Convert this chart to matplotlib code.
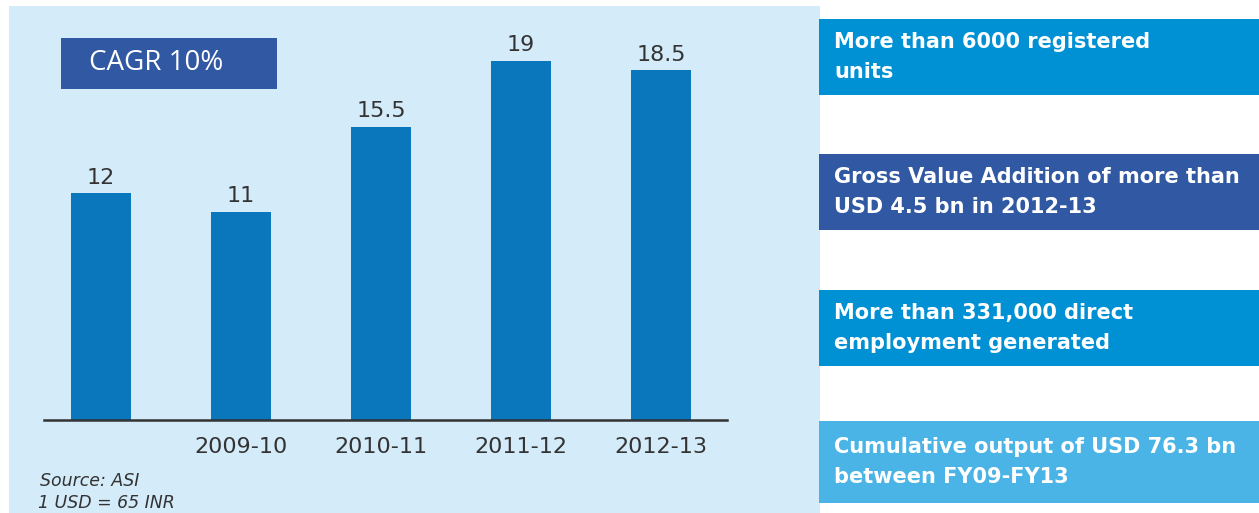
import matplotlib
matplotlib.use("Agg")
import matplotlib.pyplot as plt
from matplotlib.patches import Rectangle

# Output value by year (USD bn)
years = ["", "2009-10", "2010-11", "2011-12", "2012-13"]
values = [12, 11, 15.5, 19, 18.5]
value_labels = ["12", "11", "15.5", "19", "18.5"]

cagr_text = "CAGR 10%"
notes = ["Source: ASI", "1 USD = 65 INR"]

facts = [
    "More than 6000 registered\nunits",
    "Gross Value Addition of more than\nUSD 4.5 bn in 2012-13",
    "More than 331,000 direct\nemployment generated",
    "Cumulative output of USD 76.3 bn\nbetween FY09-FY13",
]
fact_colors = ["#0090D4", "#3158A3", "#0090D4", "#4BB4E6"]

W, H = 1259, 513
fig = plt.figure(figsize=(W / 100, H / 100), dpi=100)
fig.patch.set_facecolor("white")


def fx(px):
    return px / W


def fy(py):
    return 1 - py / H


FONT = ["DejaVu Sans"]
LIGHT = ["Open Sans", "DejaVu Sans"]
TEXT_DARK = "#333333"

# light blue panel behind the chart
fig.patches.append(Rectangle((fx(9), fy(513)), fx(820) - fx(9), fy(6) - fy(513),
                             transform=fig.transFigure, facecolor="#D4EBFA",
                             edgecolor="none", zorder=0))

# bar chart
ax = fig.add_axes([fx(44), fy(420), fx(727) - fx(44), fy(6) - fy(420)])
ax.set_zorder(2)
ax.set_facecolor("none")
x = list(range(len(values)))
bars = ax.bar(x, values, width=0.43, color="#0A76BC", zorder=2)
ax.set_xlim(-0.407, 4.47)
ax.set_ylim(0, 21.9)
for rect, lab in zip(bars, value_labels):
    ax.annotate(lab, (rect.get_x() + rect.get_width() / 2, rect.get_height()),
                xytext=(0, 4), textcoords="offset points", ha="center", va="bottom",
                fontsize=16, color=TEXT_DARK, family=FONT)
for s in ["top", "right", "left"]:
    ax.spines[s].set_visible(False)
ax.spines["bottom"].set_color(TEXT_DARK)
ax.spines["bottom"].set_linewidth(1.8)
ax.set_yticks([])
ax.set_xticks(x)
ax.set_xticklabels(years, fontsize=16, color=TEXT_DARK, family=FONT)
ax.tick_params(axis="x", length=0, pad=12)

# CAGR badge
fig.patches.append(Rectangle((fx(61), fy(89)), fx(277) - fx(61), fy(38) - fy(89),
                             transform=fig.transFigure, facecolor="#3158A3",
                             edgecolor="none", zorder=3))
fig.text(fx(89), fy(63.5), cagr_text, color="white", fontsize=20, family=LIGHT,
         va="center", ha="left", zorder=4)

# source notes
fig.text(fx(40), fy(481), notes[0], color=TEXT_DARK, fontsize=12.5, style="italic",
         family=FONT, va="center", ha="left")
fig.text(fx(38), fy(503), notes[1], color=TEXT_DARK, fontsize=12.5, style="italic",
         family=FONT, va="center", ha="left")

# fact boxes on the right
box_rows = [(19, 95), (154, 230), (290, 366), (421, 503)]
for (top, bottom), txt, col in zip(box_rows, facts, fact_colors):
    fig.patches.append(Rectangle((fx(819), fy(bottom)), fx(W) - fx(819), fy(top) - fy(bottom),
                                 transform=fig.transFigure, facecolor=col,
                                 edgecolor="none", zorder=3))
    fig.text(fx(834), fy((top + bottom) / 2), txt, color="white", fontsize=15,
             family=FONT, weight="bold", va="center", ha="left", linespacing=1.6,
             zorder=4)

fig.savefig("out.png", dpi=100)
